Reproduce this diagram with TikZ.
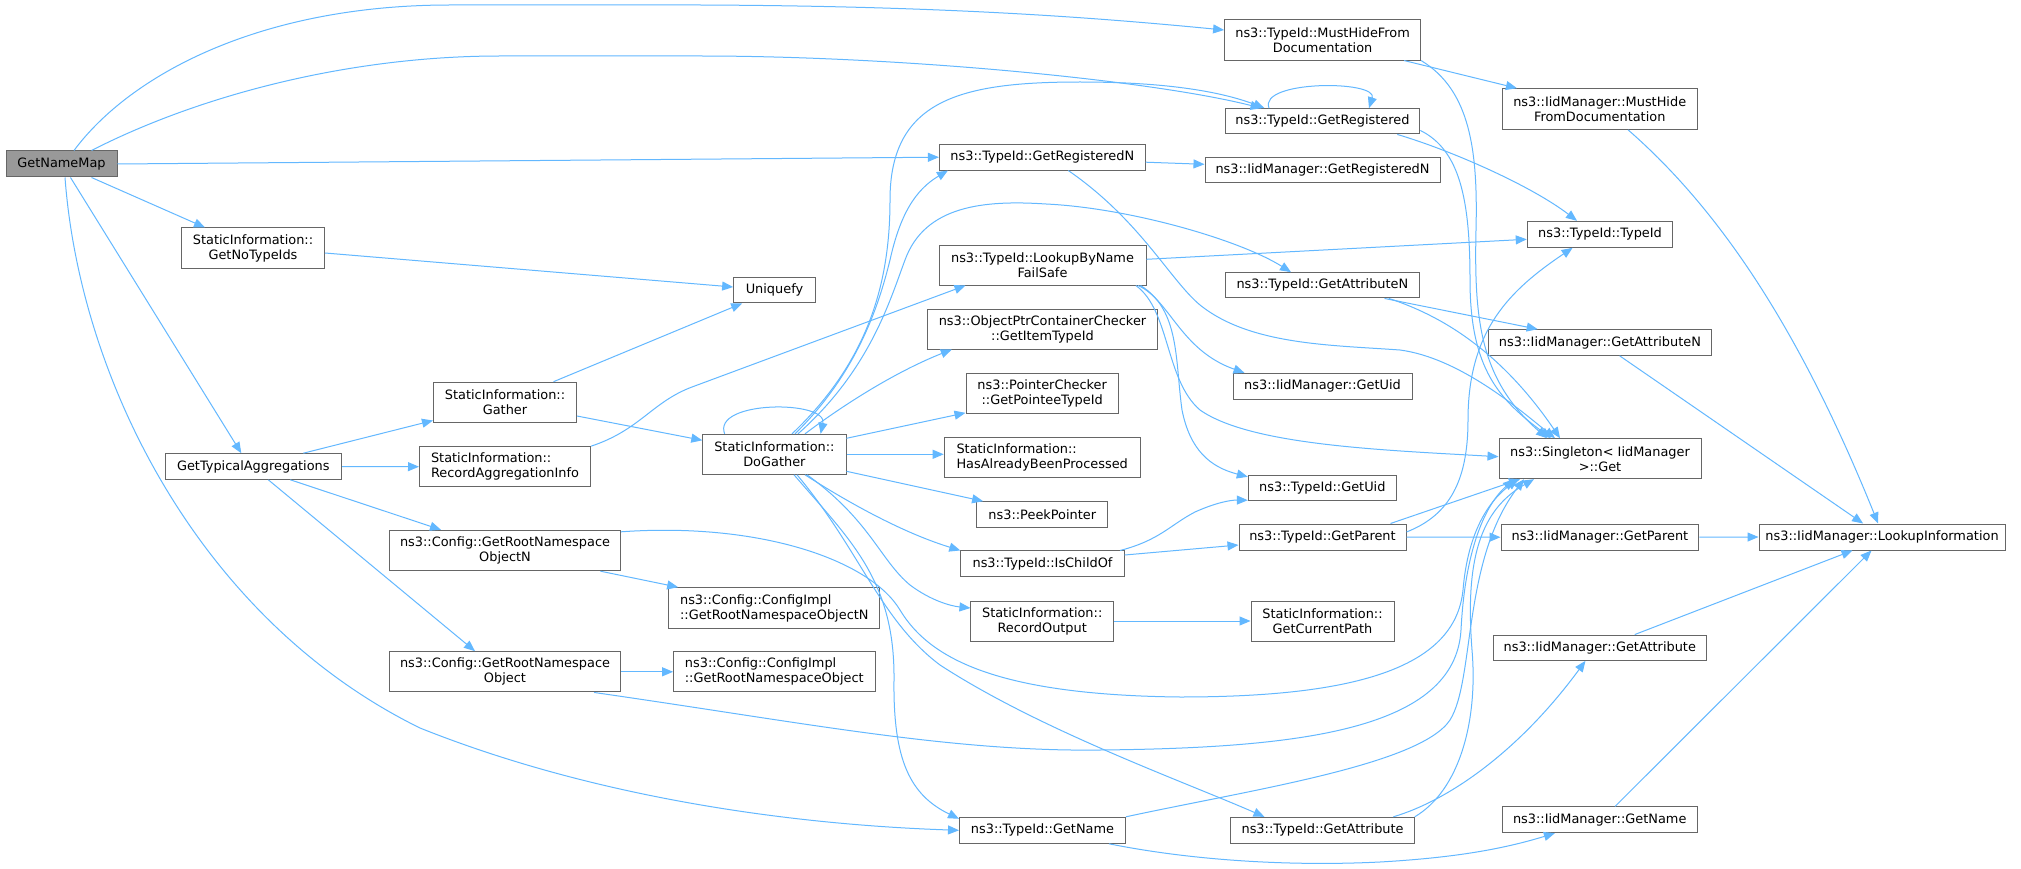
\documentclass[tikz,border=0pt]{standalone}
\usepackage{fontspec}
\setmainfont{DejaVu Sans}
\usetikzlibrary{arrows.meta,calc}
\definecolor{edgec}{HTML}{63B8FF}
\definecolor{bordc}{HTML}{666666}
\definecolor{mainfill}{HTML}{999999}
\begin{document}
\begin{tikzpicture}[x=1pt,y=-1pt,
  nbox/.style={draw=bordc, fill=white, line width=1pt, inner sep=0pt, align=center, font=\fontsize{12.9}{15}\selectfont},
  lbox/.style={nbox, align=left},
  mainbox/.style={nbox, fill=mainfill},
  conn/.style={draw=edgec, line width=1pt, -{Triangle[length=11pt,width=9pt]}}]
\fill[white] (0,0) rectangle (2021,869);
\useasboundingbox (0,0) rectangle (2021,869);
% rank 0
\node[mainbox, minimum width=111pt, minimum height=26pt] (gnm) at (61.5,164) {GetNameMap};
% rank 1
\node[nbox, minimum width=143pt, minimum height=40pt] (nti) at (253,248) {StaticInformation::\\GetNoTypeIds};
\node[nbox, minimum width=176.5pt, minimum height=25.6pt] (gta) at (253.3,466.5) {GetTypicalAggregations};
% rank 2
\node[nbox, minimum width=143pt, minimum height=40.6pt] (gat) at (505,402.5) {StaticInformation::\\Gather};
\node[lbox, minimum width=171pt, minimum height=40pt] (rai) at (505,466.7) {StaticInformation::\\RecordAggregationInfo};
\node[nbox, minimum width=231pt, minimum height=40.4pt] (grn) at (505,550.5) {ns3::Config::GetRootNamespace\\ObjectN};
\node[nbox, minimum width=231pt, minimum height=40.3pt] (gro) at (505,671.8) {ns3::Config::GetRootNamespace\\Object};
% rank 3
\node[nbox, minimum width=81.7pt, minimum height=25.7pt] (unq) at (774.5,290) {Uniquefy};
\node[nbox, minimum width=143.2pt, minimum height=40pt] (dog) at (774.4,454.3) {StaticInformation::\\DoGather};
\node[lbox, minimum width=211.3pt, minimum height=40.6pt] (cin) at (774.3,608) {ns3::Config::ConfigImpl\\::GetRootNamespaceObjectN};
\node[lbox, minimum width=201.4pt, minimum height=40.3pt] (cio) at (774.3,671.8) {ns3::Config::ConfigImpl\\::GetRootNamespaceObject};
% rank 4
\node[nbox, minimum width=205.8pt, minimum height=25.7pt] (trn) at (1042.3,157.2) {ns3::TypeId::GetRegisteredN};
\node[nbox, minimum width=207pt, minimum height=40pt] (lbn) at (1042.5,265) {ns3::TypeId::LookupByName\\FailSafe};
\node[nbox, minimum width=229.4pt, minimum height=40pt] (opc) at (1042.5,329) {ns3::ObjectPtrContainerChecker\\::GetItemTypeId};
\node[nbox, minimum width=152.4pt, minimum height=40.3pt] (pch) at (1042.2,393.2) {ns3::PointerChecker\\::GetPointeeTypeId};
\node[lbox, minimum width=196pt, minimum height=40.3pt] (hab) at (1042.2,457.2) {StaticInformation::\\HasAlreadyBeenProcessed};
\node[nbox, minimum width=130.8pt, minimum height=25.6pt] (ppt) at (1042.3,514.5) {ns3::PeekPointer};
\node[nbox, minimum width=163.4pt, minimum height=25.7pt] (ico) at (1042.5,563.8) {ns3::TypeId::IsChildOf};
\node[nbox, minimum width=142.5pt, minimum height=40pt] (rou) at (1042.2,621) {StaticInformation::\\RecordOutput};
\node[nbox, minimum width=166pt, minimum height=26pt] (tgn) at (1042.5,830.3) {ns3::TypeId::GetName};
% rank 5
\node[nbox, minimum width=196pt, minimum height=40.7pt] (mhd) at (1322.6,39.7) {ns3::TypeId::MustHideFrom\\Documentation};
\node[nbox, minimum width=194.8pt, minimum height=25.3pt] (trg) at (1322.4,121.3) {ns3::TypeId::GetRegistered};
\node[nbox, minimum width=235pt, minimum height=25.3pt] (irn) at (1322.5,170.3) {ns3::IidManager::GetRegisteredN};
\node[nbox, minimum width=193.8pt, minimum height=25.3pt] (tan) at (1322.4,285.3) {ns3::TypeId::GetAttributeN};
\node[nbox, minimum width=179pt, minimum height=25.7pt] (iuid) at (1322.5,386.2) {ns3::IidManager::GetUid};
\node[nbox, minimum width=148pt, minimum height=25.4pt] (tuid) at (1322.3,488) {ns3::TypeId::GetUid};
\node[nbox, minimum width=167pt, minimum height=26pt] (tpa) at (1322.5,537) {ns3::TypeId::GetParent};
\node[nbox, minimum width=143pt, minimum height=40pt] (gcp) at (1322.5,621) {StaticInformation::\\GetCurrentPath};
\node[nbox, minimum width=183.3pt, minimum height=26pt] (tga) at (1322.6,830.3) {ns3::TypeId::GetAttribute};
% rank 6
\node[nbox, minimum width=194.6pt, minimum height=40.6pt] (imh) at (1599.7,109) {ns3::IidManager::MustHide\\FromDocumentation};
\node[nbox, minimum width=145.5pt, minimum height=26pt] (tti) at (1600,234.3) {ns3::TypeId::TypeId};
\node[nbox, minimum width=223.4pt, minimum height=25.6pt] (ian) at (1599.9,342.5) {ns3::IidManager::GetAttributeN};
\node[nbox, minimum width=202pt, minimum height=40pt] (sgl) at (1600,458.7) {ns3::Singleton< IidManager\\>::Get};
\node[nbox, minimum width=197.8pt, minimum height=25.7pt] (ipa) at (1599.9,537.2) {ns3::IidManager::GetParent};
\node[nbox, minimum width=213.5pt, minimum height=25.3pt] (iga) at (1599.75,647.7) {ns3::IidManager::GetAttribute};
\node[nbox, minimum width=194.6pt, minimum height=25.7pt] (ign) at (1599.7,819.8) {ns3::IidManager::GetName};
% rank 7
\node[nbox, minimum width=246pt, minimum height=26pt] (lki) at (1882,537) {ns3::IidManager::LookupInformation};

% ---- edges from GetNameMap
\draw[conn] ($(gnm.north)+(12.5,0)$) .. controls (130,75) and (260,5) .. (450,5) -- (700,5) .. controls (950,6) and (1100,18) .. ($(mhd.west)+(0,-9.7)$);
\draw[conn] ($(gnm.north)+(30,0)$) .. controls (200,95) and (350,56) .. (500,56) -- (700,56) .. controls (900,56) and (1150,80) .. ($(trg.north west)+(37,0)$);
\draw[conn] (gnm.east) -- (trn.west);
\draw[conn] ($(gnm.south)+(30,0)$) -- ($(nti.north west)+(24,0)$);
\draw[conn] ($(gnm.south)+(9,0)$) -- ($(gta.north)+(-12,0)$);
\draw[conn] ($(gnm.south)+(3.5,0)$) .. controls (80,380) and (200,620) .. (420,728) .. controls (600,800) and (800,825) .. (tgn.west);
% ---- rank 1
\draw[conn] ($(nti.east)+(0,5)$) -- ($(unq.west)+(0,-3)$);
\draw[conn] ($(gta.north)+(50,0)$) -- ($(gat.west)+(0,18)$);
\draw[conn] (gta.east) -- (rai.west);
\draw[conn] ($(gta.south)+(37,0)$) -- ($(grn.north west)+(52,0)$);
\draw[conn] ($(gta.south)+(15,0)$) -- ($(gro.north west)+(86,0)$);
% ---- rank 2
\draw[conn] ($(gat.north)+(48.5,0)$) -- ($(unq.south west)+(9,0)$);
\draw[conn] ($(gat.east)+(0,13.5)$) -- ($(dog.west)+(0,-14)$);
\draw[conn] (rai.north east) .. controls (640,430) and (652,402) .. (692,387) -- ($(lbn.south west)+(27,0)$);
\draw[conn] ($(grn.south)+(95.5,0)$) -- ($(cin.north west)+(10,0)$);
\draw[conn] (gro.east) -- (cio.west);
\draw[conn] ($(grn.north east)+(0,2)$) .. controls (760,522) and (870,560) .. (900,610) .. controls (930,660) and (1000,695) .. (1180,697) .. controls (1350,697) and (1455,670) .. (1463,590) .. controls (1468,530) and (1490,500) .. ($(sgl.south)+(-82,0)$);
\draw[conn] ($(gro.south east)+(-27,0)$) .. controls (800,722) and (950,752) .. (1100,750) .. controls (1300,748) and (1455,730) .. (1461,630) .. controls (1465,550) and (1485,505) .. ($(sgl.south)+(-86,0)$);
% ---- DoGather
\draw[conn] ($(dog.north)+(-49.8,0)$) .. controls (712,400) and (828,400) .. ($(dog.north)+(46.2,0)$);
\draw[conn] ($(dog.north)+(20.6,0)$) .. controls (860,370) and (880,300) .. (890,260) .. controls (900,215) and (915,190) .. ($(trn.south west)+(9,0)$);
\draw[conn] ($(dog.north)+(17.6,0)$) .. controls (870,360) and (890,280) .. (890,200) .. controls (890,100) and (960,82) .. (1080,82) .. controls (1180,82) and (1230,95) .. ($(trg.north west)+(40,0)$);
\draw[conn] ($(dog.north)+(23.6,0)$) .. controls (870,370) and (890,300) .. (905,260) .. controls (925,205) and (985,200) .. (1046,204) .. controls (1130,208) and (1240,240) .. ($(tan.north west)+(66,0)$);
\draw[conn] ($(dog.north)+(30.6,0)$) .. controls (850,400) and (900,370) .. ($(opc.south west)+(24.5,0)$);
\draw[conn] ($(dog.east)+(0,-16)$) -- ($(pch.south west)+(0,-1)$);
\draw[conn] (dog.east) -- (dog.east -| hab.west);
\draw[conn] ($(dog.east)+(0,17)$) -- ($(ppt.north west)+(6.7,0)$);
\draw[conn] ($(dog.south)+(30.6,0)$) .. controls (860,510) and (910,535) .. (ico.north west);
\draw[conn] ($(dog.south)+(32.6,0)$) .. controls (870,520) and (880,560) .. (910,585) .. controls (930,600) and (950,606) .. ($(rou.west)+(0,-13)$);
\draw[conn] ($(dog.south)+(19.6,0)$) .. controls (850,540) and (895,580) .. (894,680) .. controls (893,760) and (910,795) .. ($(tgn.north west)+(0,2)$);
\draw[conn] ($(dog.south)+(22.6,0)$) .. controls (860,550) and (880,620) .. (940,665) .. controls (1040,730) and (1180,780) .. ($(tga.north west)+(34,0)$);
% ---- rank 4
\draw[conn] ($(trn.east)+(0,5)$) -- ($(irn.west)+(0,-6)$);
\draw[conn] ($(trn.south)+(26,0)$) .. controls (1140,220) and (1170,280) .. (1200,305) .. controls (1250,345) and (1330,345) .. (1400,350) .. controls (1460,358) and (1520,410) .. ($(sgl.north)+(-45,0)$);
\draw[conn] ($(lbn.east)+(0,-5.7)$) -- ($(tti.west)+(0,5)$);
\draw[conn] ($(lbn.south east)+(-8.4,0)$) .. controls (1170,300) and (1180,350) .. ($(iuid.north west)+(12,0)$);
\draw[conn] ($(lbn.south east)+(-6,0)$) .. controls (1180,310) and (1175,360) .. (1182,410) .. controls (1190,450) and (1210,467) .. ($(tuid.north west)+(0,2)$);
\draw[conn] ($(lbn.south east)+(-10.7,0)$) .. controls (1170,310) and (1165,380) .. (1200,410) .. controls (1250,445) and (1380,450) .. ($(sgl.west)+(0,-2)$);
\draw[conn] ($(ico.north east)+(-4.5,0)$) .. controls (1160,540) and (1170,525) .. (1195,512) .. controls (1215,503) and (1230,500) .. ($(tuid.south west)+(0,-1)$);
\draw[conn] ($(ico.east)+(0,-8.8)$) -- ($(tpa.west)+(0,8)$);
\draw[conn] (rou.east) -- (gcp.west);
\draw[conn] ($(tgn.south east)+(-17,0)$) .. controls (1200,862) and (1300,866) .. (1380,862) .. controls (1450,858) and (1500,850) .. ($(ign.south west)+(53,0)$);
\draw[conn] (tgn.north east) .. controls (1250,790) and (1420,765) .. (1450,720) .. controls (1475,680) and (1462,560) .. ($(sgl.south)+(-76,0)$);
% ---- rank 5
\draw[conn] ($(mhd.south east)+(-17,0)$) -- ($(imh.north west)+(15,0)$);
\draw[conn] (mhd.south east) .. controls (1470,90) and (1478,150) .. (1476,230) .. controls (1474,320) and (1480,380) .. ($(sgl.north)+(-53,0)$);
\draw[conn] ($(trg.north)+(-53.4,0)$) .. controls (1258,80) and (1378,80) .. ($(trg.north)+(46.6,0)$);
\draw[conn] ($(trg.south east)+(-23,0)$) .. controls (1450,150) and (1530,185) .. ($(tti.north)+(-23,0)$);
\draw[conn] ($(trg.south east)+(0,-4)$) .. controls (1460,150) and (1470,200) .. (1470,280) .. controls (1470,370) and (1500,400) .. ($(sgl.north)+(-49,0)$);
\draw[conn] ($(tan.south east)+(-35.3,0)$) -- ($(ian.north west)+(50,0)$);
\draw[conn] ($(tan.south east)+(-31,0)$) .. controls (1440,315) and (1500,350) .. ($(sgl.north)+(-40,0)$);
\draw[conn] (tpa.east) -- (ipa.west);
\draw[conn] ($(tpa.north east)+(-16,0)$) -- ($(sgl.south)+(-80,0)$);
\draw[conn] ($(tpa.east)+(0,-5)$) .. controls (1450,515) and (1468,480) .. (1468,420) .. controls (1468,330) and (1510,290) .. ($(tti.south)+(-27.4,0)$);
\draw[conn] ($(tga.north east)+(-21.4,0)$) .. controls (1450,800) and (1520,750) .. ($(iga.south)+(-14.3,0)$);
\draw[conn] (tga.north east) .. controls (1460,790) and (1478,720) .. (1472,650) .. controls (1465,560) and (1480,510) .. ($(sgl.south)+(-66,0)$);
% ---- rank 6
\draw[conn] ($(imh.south)+(28.3,0)$) .. controls (1720,210) and (1800,330) .. ($(lki.north west)+(119.6,0)$);
\draw[conn] ($(ian.south)+(19.7,0)$) -- ($(lki.north west)+(104.6,0)$);
\draw[conn] (ipa.east) -- (lki.west);
\draw[conn] ($(iga.north)+(35,0)$) -- ($(lki.south west)+(94,0)$);
\draw[conn] ($(ign.north)+(15.3,0)$) -- ($(lki.south west)+(113,0)$);
\end{tikzpicture}
\end{document}
